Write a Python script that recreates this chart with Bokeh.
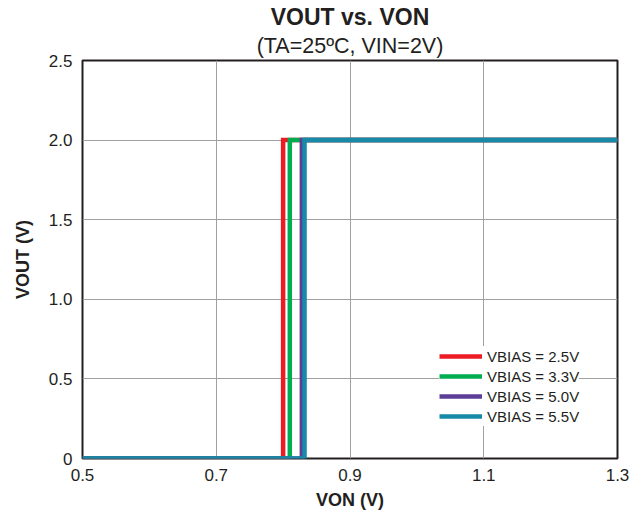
from bokeh.plotting import figure
from bokeh.models import (Range1d, FixedTicker, CustomJSTickFormatter, Title, Legend, LegendItem)
from bokeh.embed import file_html
from bokeh.resources import INLINE

# ---- data ----
series_names = ["VBIAS = 2.5V", "VBIAS = 3.3V", "VBIAS = 5.0V", "VBIAS = 5.5V"]
series_colors = ["#ED1C24", "#00AD50", "#5C3E97", "#178AA7"]
von_threshold = [0.800, 0.810, 0.828, 0.832]
von_start = 0.5
von_end = 1.3
vout_low = 0.0
vout_high = 2.0
x_ticks = [0.5, 0.7, 0.9, 1.1, 1.3]
y_ticks = [0.0, 0.5, 1.0, 1.5, 2.0, 2.5]

FONT = "Liberation Sans"
TXT = "#231F20"

p = figure(width=633, height=512, output_backend="svg", toolbar_location=None,
           x_range=Range1d(0.5, 1.3), y_range=Range1d(0, 2.5),
           min_border_left=82, min_border_right=16, min_border_top=60, min_border_bottom=54)
p.title = None

sub = Title(text="(TA=25ºC, VIN=2V)", align="center", text_font=FONT,
            text_font_size="21.5px", text_font_style="normal", text_color=TXT,
            standoff=5, offset=0)
main = Title(text="VOUT vs. VON", align="center", text_font=FONT,
             text_font_size="23px", text_font_style="bold", text_color=TXT,
             standoff=0, offset=0)
p.add_layout(sub, "above")
p.add_layout(main, "above")

p.outline_line_color = "#231F20"
p.outline_line_width = 2
p.background_fill_color = "white"
p.border_fill_color = "white"

for ax in (p.xaxis[0], p.yaxis[0]):
    ax.axis_line_color = None
    ax.major_tick_line_color = None
    ax.minor_tick_line_color = None
    ax.major_tick_in = 0
    ax.major_tick_out = 0
    ax.major_label_text_font = FONT
    ax.major_label_text_font_size = "17px"
    ax.major_label_text_color = TXT
    ax.axis_label_text_font = FONT
    ax.axis_label_text_font_size = "18px"
    ax.axis_label_text_font_style = "bold"
    ax.axis_label_text_color = TXT

p.xaxis.ticker = FixedTicker(ticks=x_ticks)
p.yaxis.ticker = FixedTicker(ticks=y_ticks)
p.xaxis.formatter = CustomJSTickFormatter(code="return tick.toFixed(1);")
p.yaxis.formatter = CustomJSTickFormatter(code="return Math.abs(tick) < 1e-9 ? '0' : tick.toFixed(1);")
p.xaxis.axis_label = "VON (V)"
p.yaxis.axis_label = "VOUT (V)"
p.xaxis.major_label_standoff = 10
p.yaxis.major_label_standoff = 10
p.xaxis.axis_label_standoff = 6
p.yaxis.axis_label_standoff = 13

p.xgrid.ticker = FixedTicker(ticks=x_ticks)
p.ygrid.ticker = FixedTicker(ticks=y_ticks)
p.xgrid.grid_line_color = "#A0A0A0"
p.ygrid.grid_line_color = "#A0A0A0"
p.xgrid.grid_line_width = 1
p.ygrid.grid_line_width = 1

items = []
for name, color, t in zip(series_names, series_colors, von_threshold):
    xs = [von_start, t, t, von_end]
    ys = [vout_low, vout_low, vout_high, vout_high]
    r = p.line(xs, ys, line_color=color, line_width=4.5, line_join="miter")
    items.append(LegendItem(label=name, renderers=[r]))

legend = Legend(items=items, location=(357, 32), border_line_color=None,
                background_fill_color="white", background_fill_alpha=1.0,
                label_text_font=FONT, label_text_font_size="15px", label_text_color=TXT,
                glyph_width=43, glyph_height=20, label_height=20, spacing=0,
                padding=6, margin=0, label_standoff=5)
p.add_layout(legend, "center")

open("out.html", "w").write(file_html(p, INLINE))
